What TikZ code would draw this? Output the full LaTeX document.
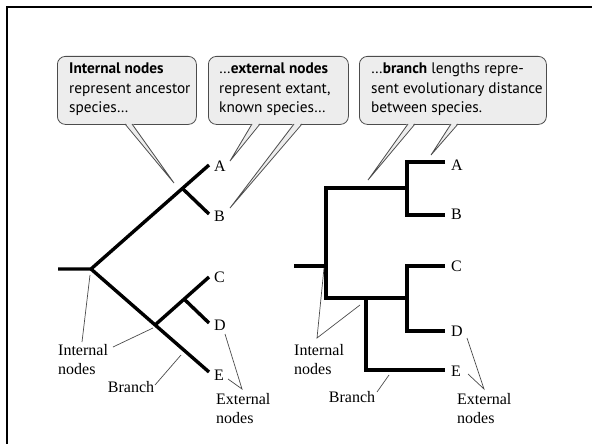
\documentclass[tikz,border=0pt]{standalone}
\usepackage{fontspec}
\setmainfont{Liberation Serif}
\setsansfont{PT Sans}
\begin{document}
\begin{tikzpicture}[x=1pt,y=-1pt,
  tree/.style={line width=3.4pt, line join=miter},
  note/.style={line width=0.7pt, draw=black!70},
  callbox/.style={draw=black!70, line width=0.8pt, fill=black!7, rounded corners=8pt, anchor=north west, inner sep=0pt, minimum height=68pt},
  calltext/.style={font=\sffamily\fontsize{15.3}{19.5}\selectfont, align=left, anchor=west, inner sep=0pt},
  ptrfill/.style={fill=black!7},
  ptr/.style={draw=black!70, line width=0.8pt},
  leaf/.style={font=\fontsize{16}{19.5}\selectfont, anchor=west, inner sep=0pt},
  lab/.style={font=\fontsize{16}{19.5}\selectfont, align=left, inner sep=0pt, anchor=north west}]
\useasboundingbox (0,0) rectangle (592,444);
% frame
\draw[line width=2pt] (7,444) -- (7,7) -- (592,7);

% ---------- callouts ----------
\node[callbox, minimum width=139pt] (c1) at (57,56) {};
\node[calltext] (t1) at ([xshift=12pt,yshift=1pt]c1.west) {\textbf{Internal nodes}\\represent ancestor\\species\dots};
\node[callbox, minimum width=140pt] (c2) at (208,56) {};
\node[calltext] (t2) at ([xshift=11pt,yshift=1pt]c2.west) {\dots\textbf{external nodes}\\represent extant,\\known species\dots};
\node[callbox, minimum width=187pt] (c3) at (359,56) {};
\node[calltext] (t3) at ([xshift=12pt,yshift=1pt]c3.west) {\dots\textbf{branch} lengths repre-\\sent evolutionary distance\\between species.};

% pointers
\coordinate (p1) at (174,183);
\fill[ptrfill] (125,122.6) -- (p1) -- (132,122.6) -- cycle;
\draw[ptr] (125,124) -- (p1) -- (132,124);
\coordinate (p2) at (230,161);
\fill[ptrfill] (252,122.6) -- (p2) -- (260,122.6) -- cycle;
\draw[ptr] (252,124) -- (p2) -- (260,124);
\coordinate (p3) at (230,208);
\fill[ptrfill] (294,122.6) -- (p3) -- (302,122.6) -- cycle;
\draw[ptr] (294,124) -- (p3) -- (302,124);
\coordinate (p4) at (368,180);
\fill[ptrfill] (408,122.6) -- (p4) -- (415,122.6) -- cycle;
\draw[ptr] (408,124) -- (p4) -- (415,124);
\coordinate (p5) at (431,155);
\fill[ptrfill] (451,122.6) -- (p5) -- (458,122.6) -- cycle;
\draw[ptr] (451,124) -- (p5) -- (458,124);

% ---------- left tree ----------
\coordinate (l0) at (58,269);
\coordinate (lr) at (91,269);
\coordinate (lab) at (183,189);
\coordinate (la) at (209,165);
\coordinate (lb) at (209,214);
\coordinate (lcde) at (155,325);
\coordinate (lcd) at (184,299);
\coordinate (lc) at (209,277);
\coordinate (ld) at (209,323);
\coordinate (le) at (209,372);
\draw[tree] (l0) -- (lr) -- (la);
\draw[tree] (lab) -- (lb);
\draw[tree] (lr) -- (le);
\draw[tree] (lcde) -- (lc);
\draw[tree] (lcd) -- (ld);
\node[leaf] (lA) at (214,166) {A};
\node[leaf] (lB) at (214,216) {B};
\node[leaf] (lC) at (214,277) {C};
\node[leaf] (lD) at (214,325) {D};
\node[leaf] (lE) at (214,375) {E};

\node[lab] (lint) at (58,344) {Internal\\nodes};
\node[lab, anchor=center] (lbr) at (131,387) {Branch};
\node[lab] (lext) at (216,393) {External\\nodes};
\coordinate (lq1) at (90,275);
\coordinate (lq2) at (82,342);
\coordinate (lq3) at (113,347);
\coordinate (lq4) at (153,328);
\draw[note] (lq1) -- (lq2);
\draw[note] (lq3) -- (lq4);
\coordinate (lb1) at (155,385);
\coordinate (lb2) at (181,355);
\draw[note] (lb1) -- (lb2);
\coordinate (le1) at (225,334);
\coordinate (le2) at (228,379);
\coordinate (le3) at (242,389);
\draw[note] (le1) -- (le3) -- (le2);

% ---------- right tree ----------
\coordinate (r0) at (294,266);
\coordinate (rr) at (326,266);
\coordinate (rtop) at (326,188);
\coordinate (rbot) at (326,298);
\coordinate (rab) at (407,188);
\coordinate (rcd) at (407,298);
\coordinate (re0) at (366,298);
\coordinate (rak) at (407,162);
\coordinate (rbk) at (407,215);
\coordinate (rck) at (407,266);
\coordinate (rdk) at (407,331);
\coordinate (rek) at (366,370);
\coordinate (ra) at (445,162);
\coordinate (rb) at (445,215);
\coordinate (rc) at (445,266);
\coordinate (rd) at (445,331);
\coordinate (re) at (445,370);
\draw[tree] (r0) -- (rr);
\draw[tree] (rab) -- (rtop) -- (rbot) -- (rcd);
\draw[tree] (ra) -- (rak) -- (rbk) -- (rb);
\draw[tree] (rc) -- (rck) -- (rdk) -- (rd);
\draw[tree] (re0) -- (rek) -- (re);
\node[leaf] (rA) at (451,165) {A};
\node[leaf] (rB) at (451,214) {B};
\node[leaf] (rC) at (451,266) {C};
\node[leaf] (rD) at (451,331) {D};
\node[leaf] (rE) at (451,371) {E};

\node[lab] (rint) at (294,344) {Internal\\nodes};
\node[lab, anchor=center] (rbr) at (352,397) {Branch};
\node[lab] (rext) at (457,393) {External\\nodes};
\coordinate (rq0) at (317,338);
\coordinate (rq1) at (324,268);
\coordinate (rq2) at (360,305);
\draw[note] (rq1) -- (rq0) -- (rq2);
\coordinate (rb1) at (377,392);
\coordinate (rb2) at (389,375);
\draw[note] (rb1) -- (rb2);
\coordinate (re1) at (467,338);
\coordinate (re2) at (468,374);
\coordinate (re3) at (484,389);
\draw[note] (re1) -- (re3) -- (re2);
\end{tikzpicture}
\end{document}
